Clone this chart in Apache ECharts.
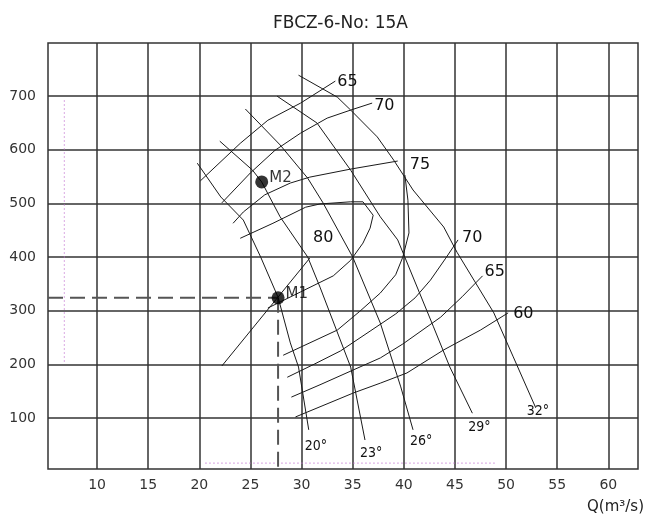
<!DOCTYPE html>
<html><head><meta charset="utf-8">
<script src="https://cdn.jsdelivr.net/npm/echarts@6/dist/echarts.min.js"></script>
<style>html,body{margin:0;padding:0;background:#fff}#c{width:648px;height:518px}</style>
</head><body><div id="c"></div>
<script>
// axes
const qTicks = [10, 15, 20, 25, 30, 35, 40, 45, 50, 55, 60];
const pTicks = [100, 200, 300, 400, 500, 600, 700];
const qRange = [5.2, 62.9];
const pRange = [5, 799];

// blade-angle curves [Q, P]
const bladeNames = ['20°', '23°', '26°', '29°', '32°'];
const blade20 = [[19.8,575],[22.1,512],[24.3,469],[26.0,400],[27.7,325],[28.9,240],[29.7,195],[30.7,78]];
const blade23 = [[22.0,616],[25.2,562],[26.1,540],[27.9,475],[30.6,400],[31.8,344],[34.8,195],[36.2,59]];
const blade26 = [[24.5,676],[27.9,609],[30.6,547],[32.1,501],[35.0,400],[37.7,277],[39.7,158],[40.9,78]];
const blade29 = [[27.6,700],[31.5,650],[34.8,562],[37.7,475],[39.4,432],[42.9,270],[44.5,195],[46.7,109]];
const blade32 = [[29.7,739],[33.5,698],[34.8,674],[37.4,624],[39.0,581],[40.9,525],[43.9,456],[45.2,409],[48.8,296],[50.7,214],[52.9,119]];

// efficiency contours [Q, P]
const eff65top = [[20.1,542],[24.0,612],[26.7,655],[29.9,687],[33.3,728]];
const eff70top = [[22.2,501],[25.0,557],[27.4,599],[29.9,631],[32.5,659],[34.8,674],[36.9,687]];
const eff75top = [[23.3,463],[24.3,484],[26.4,516],[28.9,538],[30.8,549],[34.8,564],[39.4,579]];
const eff80 = [[24.0,435],[27.2,463],[30.4,493],[31.8,499],[34.8,503],[36.0,503],[37.0,478],[36.7,454],[36.0,426],[34.8,394],[33.1,365],[29.9,335],[26.7,305]];
const eff75low = [[28.2,217],[33.5,264],[35.7,299],[37.7,333],[39.2,367],[39.9,400],[40.5,445],[40.4,506],[40.1,553]];
const eff70low = [[28.6,176],[31.3,201],[33.8,225],[36.7,262],[39.2,294],[41.1,324],[42.6,357],[44.1,398],[45.3,432]];
const eff65low = [[29.0,139],[31.8,162],[35.1,190],[37.7,212],[39.9,238],[43.6,288],[45.7,326],[47.7,365]];
const eff60low = [[29.4,102],[35.1,147],[37.7,165],[40.3,184],[43.9,227],[47.5,264],[50.2,296]];
const effNames = ['65', '70', '75', '', '70', '65', '60'];
const label80 = { text: '80', q: 32.1, p: 435 };

// straight operating line
const opLine = [[22.2,197],[30.8,398]];

// operating points
const pointNames = ['M1', 'M2'];
const pointQ = [27.7, 26.1];
const pointP = [324, 540];

// faint dotted guide traces
const guideV = [[6.8,692],[6.8,204]];
const guideH = [[20.6,16],[48.9,16]];

const ink = '#1a1a1a';
const font = 'DejaVu Sans';

function curve(data, text, labelCfg) {
  const s = {
    type: 'line', data: data, symbol: 'none', silent: true,
    lineStyle: { color: ink, width: 1 }, z: 3
  };
  if (text) {
    s.endLabel = Object.assign({ show: true, formatter: text, color: '#111', textBorderWidth: 0 }, labelCfg);
  }
  return s;
}

const effLabel = { fontFamily: font, fontSize: 16, position: 'right', distance: 2 };
const angLabel = { fontFamily: '"DejaVu Sans Condensed", "Liberation Sans"', fontSize: 14 };

const series = [];
const blades = [blade20, blade23, blade26, blade29, blade32];
const bladeOffsets = [[-12,17],[-13,13],[-11,12],[-12,14],[-17,4]];
blades.forEach((b, i) => series.push(curve(b, bladeNames[i], Object.assign({ offset: bladeOffsets[i] }, angLabel))));

const effs = [eff65top, eff70top, eff75top, eff75low, eff70low, eff65low, eff60low];
const effOffsets = [[0,1],[0,3],[10,4],[0,0],[2,-2],[0,-4],[3,1]];
effs.forEach((e, i) => series.push(curve(e, effNames[i], Object.assign({ offset: effOffsets[i] }, effLabel))));
series.push(curve(eff80, null));
series.push(curve(opLine, null));

// 80 label (single-point carrier)
series.push({
  type: 'line', data: [[label80.q, label80.p]], symbol: 'none', silent: true,
  lineStyle: { width: 0 },
  endLabel: { show: true, formatter: label80.text, fontFamily: font, fontSize: 16, color: '#111',
              textBorderWidth: 0, offset: [-18, 0] }
});

// dashed lines to M1
series.push({
  type: 'line', symbol: 'none', silent: true, z: 2,
  data: [[qRange[0], pointP[0]], [pointQ[0], pointP[0]]],
  lineStyle: { color: '#555', width: 2, type: [15, 7] }
});
series.push({
  type: 'line', symbol: 'none', silent: true, z: 2,
  data: [[pointQ[0], pointP[0]], [pointQ[0], pRange[0]]],
  lineStyle: { color: '#555', width: 2, type: [15, 7] }
});

// guides
[guideV, guideH].forEach(g => series.push({
  type: 'line', symbol: 'none', silent: true, z: 1, data: g,
  lineStyle: { color: '#c070d0', width: 1.2, type: [1, 3] }
}));

// operating points
series.push({
  type: 'scatter', symbol: 'circle', symbolSize: 13, z: 5, silent: true,
  data: pointNames.map((n, i) => ({ name: n, value: [pointQ[i], pointP[i]] })),
  itemStyle: { color: '#000' },
  label: { show: true, formatter: '{b}', position: 'right', distance: 1, offset: [0, -4],
           fontFamily: font, fontSize: 15, color: '#000', textBorderWidth: 0 }
});

const chart = echarts.init(document.getElementById('c'), null, { renderer: 'canvas' });
chart.setOption({
  animation: false,
  backgroundColor: '#fff',
  title: {
    text: 'FBCZ-6-No: 15A', left: 268, top: 10,
    textStyle: { fontFamily: font, fontSize: 17, fontWeight: 'normal', color: '#222' }
  },
  graphic: [{
    type: 'text', right: 4, top: 500,
    style: { text: 'Q(m³/s)', font: '15px "DejaVu Sans"', fill: '#222' }
  }],
  grid: { left: 48, right: 10, top: 43, bottom: 49, show: true, borderColor: '#333', borderWidth: 1.5, backgroundColor: 'transparent' },
  xAxis: {
    type: 'value', min: qRange[0], max: qRange[1],
    axisLine: { show: false },
    axisTick: { show: false, customValues: qTicks },
    axisLabel: { customValues: qTicks, fontFamily: font, fontSize: 14, color: '#333', margin: 9 },
    splitLine: { show: true, lineStyle: { color: '#333', width: 1.5 } }
  },
  yAxis: {
    type: 'value', min: pRange[0], max: pRange[1],
    axisLine: { show: false },
    axisTick: { show: false, customValues: pTicks },
    axisLabel: { customValues: pTicks, fontFamily: font, fontSize: 14, color: '#333', margin: 12 },
    splitLine: { show: true, lineStyle: { color: '#333', width: 1.5 } }
  },
  series: series
});
</script>
</body></html>
